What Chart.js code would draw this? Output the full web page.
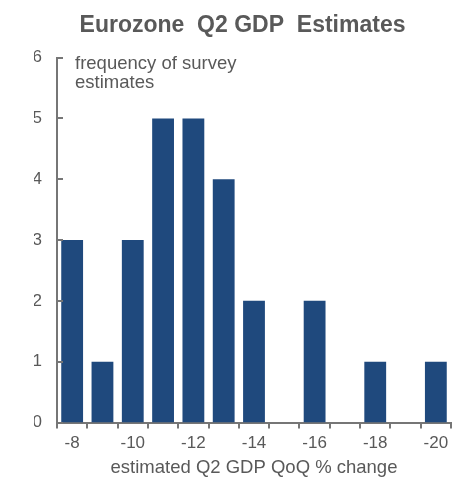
<!DOCTYPE html>
<html>
<head>
<meta charset="utf-8">
<script src="https://cdn.jsdelivr.net/npm/chart.js@4"></script>
<style>
  html, body { margin: 0; padding: 0; background: #fff; }
  #wrap { width: 465px; height: 477px; }
</style>
</head>
<body>
<div id="wrap"><canvas id="myChart"></canvas></div>
<script>
// estimated Q2 GDP QoQ % change buckets
const categories = ['-8', '-9', '-10', '-11', '-12', '-13', '-14', '-15', '-16', '-17', '-18', '-19', '-20']
// number of survey estimates in each bucket
const frequency = [3, 1, 3, 5, 5, 4, 2, 0, 2, 0, 1, 0, 1]
const yTicks = [0, 1, 2, 3, 4, 5, 6]

const textColor = '#595959'
const axisColor = '#767676'
const fontFamily = '"Liberation Sans", Arial, sans-serif'

// small ticks on the y axis pointing into the plot + the label in the top-left corner
const innerTicks = {
    id: 'innerTicks',
    afterDraw: (chart) => {
        const {ctx, chartArea: {left, top}, scales: {y}} = chart
        ctx.save()
        ctx.strokeStyle = axisColor
        ctx.lineWidth = 2
        yTicks.forEach(v => {
            const py = Math.round(y.getPixelForValue(v))
            ctx.beginPath()
            ctx.moveTo(left, py)
            ctx.lineTo(left + 6, py)
            ctx.stroke()
        })
        ctx.fillStyle = textColor
        ctx.font = '18.5px ' + fontFamily
        ctx.textBaseline = 'middle'
        ctx.fillText('frequency of survey', left + 18, top + 6)
        ctx.fillText('estimates', left + 18, top + 25)
        ctx.restore()
    }
}

const ctx = document.getElementById('myChart').getContext('2d')
const myChart = new Chart(ctx, {
    type: 'bar',
    data: {
        labels: categories,
        datasets: [{
            label: 'frequency',
            data: frequency,
            backgroundColor: '#1f497d',
            barPercentage: 0.72,
            categoryPercentage: 1
        }]
    },
    options: {
        responsive: true,
        maintainAspectRatio: false,
        animation: false,
        layout: {padding: {left: 34, right: 14, top: 0, bottom: 0}},
        scales: {
            x: {
                grid: {display: true, drawOnChartArea: false, tickLength: 6, color: axisColor, lineWidth: 2, offset: true},
                border: {display: true, color: axisColor, width: 2},
                ticks: {
                    color: textColor,
                    font: {size: 17, family: fontFamily, lineHeight: 1},
                    maxRotation: 0,
                    autoSkip: false,
                    padding: 6,
                    callback: (v, i) => (i % 2 === 0 ? categories[i] : '')
                },
                title: {display: true, text: 'estimated Q2 GDP QoQ % change', color: textColor,
                        font: {size: 18.5, family: fontFamily, lineHeight: 1}, padding: {top: 1, bottom: 0}}
            },
            y: {
                min: 0,
                max: 6,
                afterFit: (scale) => { scale.width = 23 },
                ticks: {stepSize: 1, color: textColor, padding: 7,
                        font: {size: 17, family: fontFamily}},
                grid: {display: false},
                border: {display: true, color: axisColor, width: 2}
            }
        },
        plugins: {
            legend: {display: false},
            tooltip: {enabled: false},
            title: {
                display: true,
                text: 'Eurozone  Q2 GDP  Estimates',
                color: textColor,
                font: {size: 23, weight: 'bold', family: fontFamily},
                padding: {top: 12, bottom: 18}
            }
        }
    },
    plugins: [innerTicks]
})
</script>
</body>
</html>
